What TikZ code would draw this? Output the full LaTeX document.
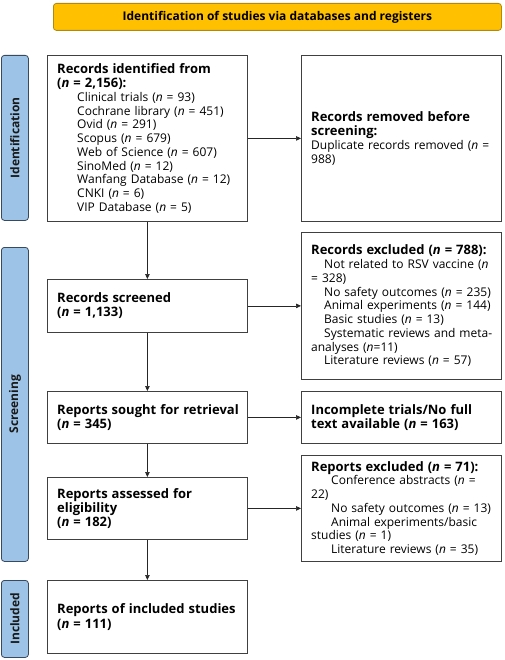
\documentclass[tikz,border=0pt]{standalone}
\usepackage{fontspec}
\setmainfont{Open Sans}
\usetikzlibrary{arrows.meta}
\definecolor{hdrfill}{HTML}{FFC000}
\definecolor{hdrdraw}{HTML}{B08A10}
\definecolor{sidefill}{HTML}{9DC3E6}
\definecolor{sidedraw}{HTML}{3A4A5E}
\definecolor{boxdraw}{HTML}{404040}
\setlength{\parindent}{0pt}
\newcommand{\nn}{\textit{n}}
\newcommand{\ind}[1]{\hspace*{#1pt}}
\newcommand{\ttlfont}{\fontsize{13}{14.3}\selectfont\bfseries}
\begin{document}
\begin{tikzpicture}[x=1pt,y=-1pt,
 flowbox/.style={draw=boxdraw, line width=0.8pt, fill=white, rectangle, anchor=north west,
   inner sep=0pt, minimum width=200pt},
 flowtext/.style={anchor=west, inner sep=0pt, align=left, text width=260pt,
   font=\fontsize{12}{13.75}\selectfont},
 sidebox/.style={draw=sidedraw, line width=0.8pt, fill=sidefill, rounded corners=3pt,
   anchor=north west, minimum width=27pt, inner sep=0pt},
 sidelabel/.style={rotate=90, font=\fontsize{12}{13}\selectfont\bfseries, text=black!90},
 flowarrow/.style={draw=black!85, line width=0.7pt, -{Triangle[length=5pt,width=4.5pt]}}
]
\useasboundingbox (0,0) rectangle (504,660);
\fill[white] (0,0) rectangle (504,660);

% header
\node[draw=hdrdraw, line width=0.8pt, fill=hdrfill, rounded corners=3pt, anchor=north west,
  minimum width=448pt, minimum height=27pt, inner sep=0pt,
  font=\fontsize{12}{14}\selectfont\bfseries] (hdr) at (53,3)
  {Identification of studies via databases and registers};

% side boxes
\node[sidebox, minimum height=165pt] (sideid) at (1,55) {};
\node[sidelabel] (lblid) at (sideid.center) {Identification};
\node[sidebox, minimum height=314pt] (sidescr) at (1,247) {};
\node[sidelabel] (lblscr) at (sidescr.center) {Screening};
\node[sidebox, minimum height=77pt] (sideinc) at (1,580) {};
\node[sidelabel] (lblinc) at (sideinc.center) {Included};

% left column
\node[flowbox, minimum height=166pt] (ident) at (47,55) {};
\node[flowtext] (identtxt) at ([xshift=10pt]ident.west) {%
{\ttlfont Records identified from\\(\nn{} = 2,156):\par}
\ind{20}Clinical trials (\nn{} = 93)\\
\ind{20}Cochrane library (\nn{} = 451)\\
\ind{20}Ovid (\nn{} = 291)\\
\ind{20}Scopus (\nn{} = 679)\\
\ind{20}Web of Science (\nn{} = 607)\\
\ind{20}SinoMed (\nn{} = 12)\\
\ind{20}Wanfang Database (\nn{} = 12)\\
\ind{20}CNKI (\nn{} = 6)\\
\ind{20}VIP Database (\nn{} = 5)};

\node[flowbox, minimum height=53pt] (screened) at (47,279) {};
\node[flowtext] (screenedtxt) at ([xshift=10pt]screened.west) {%
{\ttlfont Records screened\\(\nn{} = 1,133)\par}};

\node[flowbox, minimum height=52pt] (sought) at (47,391) {};
\node[flowtext] (soughttxt) at ([xshift=10pt]sought.west) {%
{\ttlfont Reports sought for retrieval\\(\nn{} = 345)\par}};

\node[flowbox, minimum height=62pt] (assessed) at (47,477) {};
\node[flowtext] (assessedtxt) at ([xshift=10pt]assessed.west) {%
{\ttlfont Reports assessed for\\eligibility\\(\nn{} = 182)\par}};

\node[flowbox, minimum height=73pt] (included) at (47,580) {};
\node[flowtext] (includedtxt) at ([xshift=10pt]included.west) {%
{\ttlfont Reports of included studies\\(\nn{} = 111)\par}};

% right column
\node[flowbox, minimum height=166pt] (removed) at (301,55) {};
\node[flowtext] (removedtxt) at ([xshift=10pt]removed.west) {%
{\ttlfont Records removed before\\screening:\par}
Duplicate records removed (\nn{} =\\988)};

\node[flowbox, minimum height=147pt] (excluded) at (301,232) {};
\node[flowtext] (excludedtxt) at ([xshift=10pt]excluded.west) {%
{\ttlfont Records excluded (\nn{} = 788):\par}
\ind{13}Not related to RSV vaccine (\nn\\
= 328)\\
\ind{13}No safety outcomes (\nn{} = 235)\\
\ind{13}Animal experiments (\nn{} = 144)\\
\ind{13}Basic studies (\nn{} = 13)\\
\ind{13}Systematic reviews and meta-\\
analyses (\nn=11)\\
\ind{13}Literature reviews (\nn{} = 57)};

\node[flowbox, minimum height=52pt] (incomplete) at (301,391) {};
\node[flowtext] (incompletetxt) at ([xshift=10pt]incomplete.west) {%
{\ttlfont Incomplete trials/No full\\text available (\nn{} = 163)\par}};

\node[flowbox, minimum height=106pt] (repexcl) at (301,455) {};
\node[flowtext] (repexcltxt) at ([xshift=10pt]repexcl.west) {%
{\ttlfont Reports excluded (\nn{} = 71):\par}
\ind{20}Conference abstracts (\nn{} =\\
22)\\
\ind{20}No safety outcomes (\nn{} = 13)\\
\ind{20}Animal experiments/basic\\
studies (\nn{} = 1)\\
\ind{20}Literature reviews (\nn{} = 35)};

% connectors
\draw[flowarrow] (ident.south) -- (screened.north);
\draw[flowarrow] (ident.east) -- (removed.west);
\draw[flowarrow] (screened.east) -- (excluded.west |- screened.east);
\draw[flowarrow] (screened.south) -- (sought.north);
\draw[flowarrow] (sought.east) -- (incomplete.west);
\draw[flowarrow] (sought.south) -- (assessed.north);
\draw[flowarrow] (assessed.east) -- (repexcl.west |- assessed.east);
\draw[flowarrow] (assessed.south) -- (included.north);
\end{tikzpicture}
\end{document}
